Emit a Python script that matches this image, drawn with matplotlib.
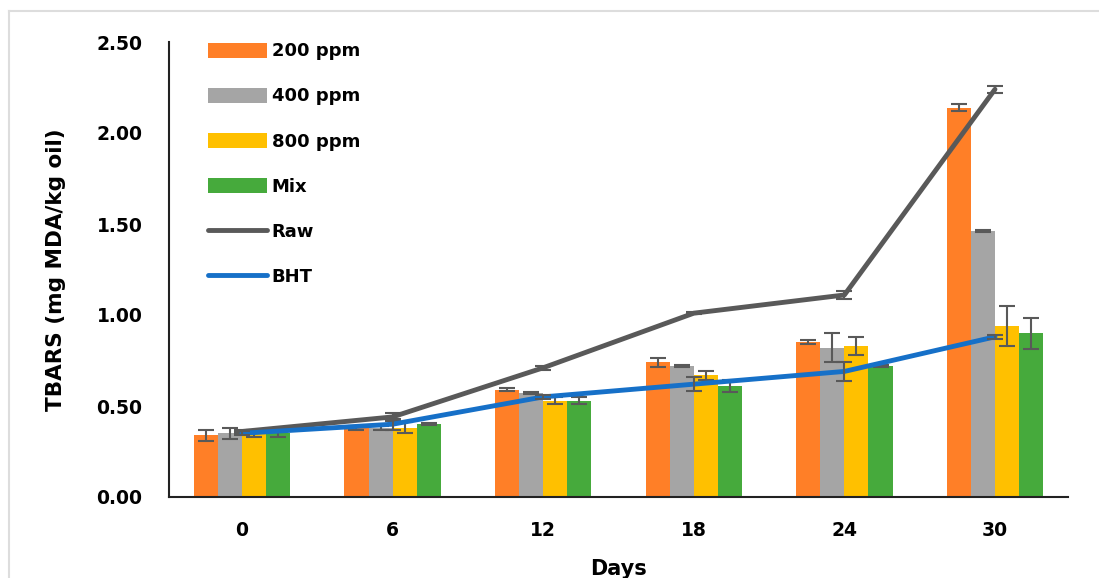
import matplotlib
matplotlib.use("Agg")
import matplotlib.pyplot as plt
from matplotlib.lines import Line2D
import numpy as np

plt.rcParams['font.family'] = ['DejaVu Sans']
plt.rcParams['font.weight'] = 'bold'

days = ['0', '6', '12', '18', '24', '30']
bar_series = ['200 ppm', '400 ppm', '800 ppm', 'Mix']
v200 = [0.34, 0.38, 0.59, 0.74, 0.85, 2.14]
v400 = [0.35, 0.38, 0.57, 0.72, 0.82, 1.46]
v800 = [0.35, 0.38, 0.53, 0.67, 0.83, 0.94]
vmix = [0.35, 0.40, 0.53, 0.61, 0.72, 0.90]
e200 = [0.03, 0.01, 0.01, 0.025, 0.01, 0.02]
e400 = [0.03, 0.01, 0.005, 0.005, 0.08, 0.005]
e800 = [0.02, 0.03, 0.02, 0.025, 0.05, 0.11]
emix = [0.02, 0.005, 0.02, 0.035, 0.005, 0.085]
raw = [0.36, 0.44, 0.71, 1.01, 1.11, 2.24]
eraw = [0.01, 0.02, 0.01, 0.005, 0.02, 0.02]
bht = [0.35, 0.40, 0.55, 0.62, 0.69, 0.88]
ebht = [0.01, 0.03, 0.01, 0.04, 0.05, 0.01]

colors = ['#FF7F27', '#A5A5A5', '#FFC000', '#46AA3C']
raw_color = '#595959'
bht_color = '#1670C8'
err_color = '#595959'

fig = plt.figure(figsize=(10.99, 5.78), dpi=100)
# light gray frame (top and left edges visible)
fig.lines.append(Line2D([9/1099, 1.0], [1 - 11/578, 1 - 11/578], transform=fig.transFigure,
                        color='#DDDDDD', linewidth=1.5))
fig.lines.append(Line2D([9/1099, 9/1099], [0, 1 - 11/578], transform=fig.transFigure,
                        color='#DDDDDD', linewidth=1.5))
ax = fig.add_axes([169/1099, 1 - 497/578, (1068 - 169)/1099, (497 - 42)/578])

x = np.arange(len(days))
w = 0.16
vals = [v200, v400, v800, vmix]
errs = [e200, e400, e800, emix]
handles = []
for i, (v, e, c, lab) in enumerate(zip(vals, errs, colors, bar_series)):
    pos = x + (i - 1.5) * w
    h = ax.bar(pos, v, width=w, color=c, label=lab, zorder=2)
    handles.append(h)
    ax.errorbar(pos, v, yerr=e, fmt='none', ecolor=err_color, elinewidth=1.5,
                capsize=6, capthick=1.5, zorder=3)

hr, = ax.plot(x, raw, color=raw_color, linewidth=3.5, label='Raw', zorder=4, solid_capstyle='round')
ax.errorbar(x, raw, yerr=eraw, fmt='none', ecolor=err_color, elinewidth=1.5,
            capsize=6, capthick=1.5, zorder=4)
hb, = ax.plot(x, bht, color=bht_color, linewidth=3.5, label='BHT', zorder=5, solid_capstyle='round')
ax.errorbar(x, bht, yerr=ebht, fmt='none', ecolor=err_color, elinewidth=1.5,
            capsize=6, capthick=1.5, zorder=5)
handles += [hr, hb]

ax.set_xlim(-0.485, 5.485)
ax.set_ylim(0, 2.5)
ax.set_yticks([0, 0.5, 1.0, 1.5, 2.0, 2.5])
ax.set_yticklabels(['0.00', '0.50', '1.00', '1.50', '2.00', '2.50'])
ax.set_xticks(x)
ax.set_xticklabels(days)
ax.tick_params(axis='both', length=0, labelsize=13.5)
ax.tick_params(axis='y', pad=19)
ax.tick_params(axis='x', pad=17)
for lab in ax.get_xticklabels() + ax.get_yticklabels():
    lab.set_fontweight('bold')
for s in ['top', 'right']:
    ax.spines[s].set_visible(False)
for s in ['left', 'bottom']:
    ax.spines[s].set_color('#222222')
    ax.spines[s].set_linewidth(1.5)

ax.set_ylabel('TBARS (mg MDA/kg oil)', fontsize=15.5, fontweight='bold', labelpad=22)
ax.set_xlabel('Days', fontsize=15, fontweight='bold', labelpad=14)

leg = ax.legend(handles, [h.get_label() for h in handles], loc='upper left',
                bbox_to_anchor=(0.035, 1.015), frameon=False,
                fontsize=13, handlelength=3.3, handleheight=0.9, labelspacing=1.5,
                handletextpad=0.25, borderaxespad=0)
for t in leg.get_texts():
    t.set_fontweight('bold')

fig.savefig('out.png', dpi=100)
